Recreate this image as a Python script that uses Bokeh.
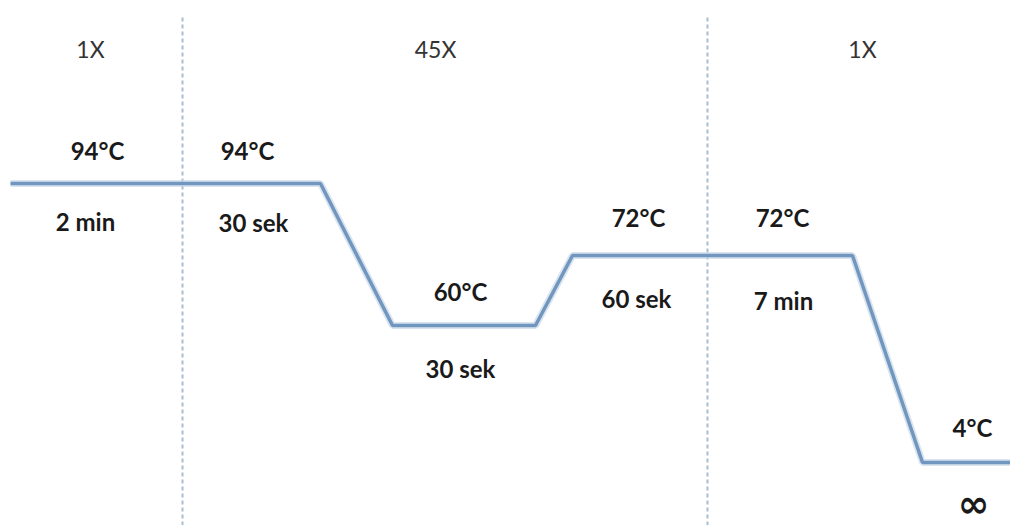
from bokeh.plotting import figure
from bokeh.models import Range1d
from bokeh.core.properties import value
from bokeh.embed import file_html
from bokeh.resources import INLINE

# PCR temperature profile (schematic): x positions of the profile corners and plateau heights
profile_x = [10, 320, 392, 535, 572, 852, 922, 1010]
profile_temp = [94, 94, 60, 60, 72, 72, 4, 4]
# drawn height of each temperature level in the schematic (not to scale)
level_of = {94: 342, 60: 200, 72: 270, 4: 63}
profile_y = [level_of[t] for t in profile_temp]

# phase separators
divider_x = [182, 707]

# cycle counts
cycle_labels = ["1X", "45X", "1X"]
cycle_x = [90, 435, 862]
cycle_y = [477, 477, 477]

# step labels
temp_labels = ["94°C", "94°C", "60°C", "72°C", "72°C", "4°C"]
temp_x = [97, 247, 460, 638, 782, 972]
temp_y = [375, 375, 234, 308, 308, 98]

time_labels = ["2 min", "30 sek", "30 sek", "60 sek", "7 min"]
time_x = [85, 253, 460, 636, 783]
time_y = [304, 303, 157, 227, 225]

inf_label = ["∞"]
inf_x = [973]
inf_y = [22]

p = figure(width=1010, height=525, output_backend="svg", toolbar_location=None,
           x_range=Range1d(0, 1010), y_range=Range1d(0, 525), min_border=0)
p.axis.visible = False
p.grid.visible = False
p.outline_line_color = None
p.background_fill_color = "white"
p.border_fill_color = "white"

for dx in divider_x:
    p.line([dx, dx], [0, 510], line_color="#a9bdd2", line_width=2, line_dash="4 3")

p.line(profile_x, profile_y, line_color="#c9d8e8", line_width=7, line_alpha=0.7)
p.line(profile_x, profile_y, line_color="#7196bf", line_width=3.5)

p.text(x=cycle_x, y=cycle_y, text=cycle_labels, text_font=value("Lato"),
       text_font_size="23px", text_color="#333333", text_align="center", text_baseline="middle")
p.text(x=temp_x, y=temp_y, text=temp_labels, text_font=value("Lato"), text_font_style="bold",
       text_font_size="24px", text_color="#1a1a1a", text_align="center", text_baseline="middle")
p.text(x=time_x, y=time_y, text=time_labels, text_font=value("Lato"), text_font_style="bold",
       text_font_size="24px", text_color="#1a1a1a", text_align="center", text_baseline="middle")
p.text(x=inf_x, y=inf_y, text=inf_label, text_font=value("DejaVu Sans"), text_font_style="bold",
       text_font_size="38px", text_color="#1a1a1a", text_align="center", text_baseline="middle")

open("out.html", "w").write(file_html(p, INLINE))
